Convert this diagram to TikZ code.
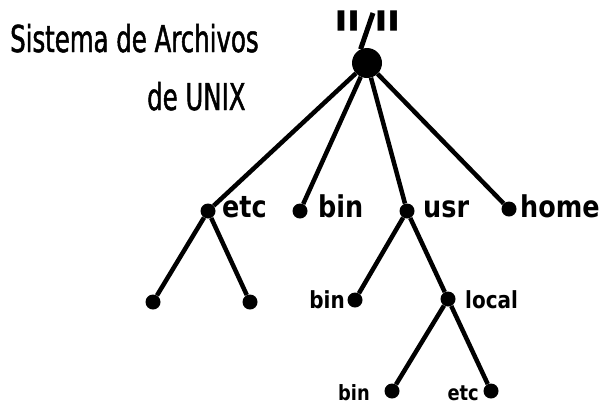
\documentclass[tikz,border=0pt]{standalone}
\usepackage{fontspec}
\newfontfamily\titlefont[FakeStretch=0.66,FakeBold=1.3]{DejaVu Sans}
\newfontfamily\labelfont[FakeStretch=0.85]{DejaVu Sans}
\newfontfamily\quotefont[FakeStretch=0.78]{DejaVu Sans}
\begin{document}
\begin{tikzpicture}[x=1bp,y=-1bp,
  dot/.style={circle,fill=black,inner sep=0pt,minimum size=15bp},
  rootdot/.style={circle,fill=black,inner sep=0pt,minimum size=30bp},
  edge/.style={line width=4.5bp},
  txt/.style={inner sep=0pt,anchor=base west},
  titletext/.style={txt,font=\titlefont\fontsize{37bp}{44bp}\selectfont},
  biglabel/.style={txt,font=\labelfont\bfseries\fontsize{30bp}{36bp}\selectfont},
  midlabel/.style={txt,font=\labelfont\bfseries\fontsize{23.5bp}{28bp}\selectfont},
  smalllabel/.style={txt,font=\labelfont\bfseries\fontsize{21bp}{25bp}\selectfont},
]
\useasboundingbox[fill=white] (0,0) rectangle (604,407);

% title
\node[titletext] (title1) at (10,52) {Sistema de Archivos};
\node[titletext] (title2) at (147,110) {de UNIX};

% root directory and its name
\node[rootdot] (root) at (367,63) {};
\node[txt,font=\quotefont\bfseries\fontsize{75bp}{80bp}\selectfont] (rootname) at (332,65) {"\kern9.5bp"};
\coordinate (slashtop) at (373,13);
\draw[edge,line width=5bp] (slashtop) -- (root.115);

% first level
\node[dot] (etc)  at (208,211) {};
\node[dot] (bin)  at (300,211) {};
\node[dot] (usr)  at (407,211) {};
\node[dot] (home) at (509,209) {};
\node[biglabel] (etcl)  at (222,217) {etc};
\node[biglabel] (binl)  at (318,217) {bin};
\node[biglabel] (usrl)  at (423,217) {usr};
\node[biglabel] (homel) at (520,217) {home};

% second level
\node[dot] (etca)  at (153,302) {};
\node[dot] (etcb)  at (250,302) {};
\node[dot] (ubin)  at (355,300) {};
\node[dot] (local) at (448,299) {};
\node[midlabel,anchor=base east] (ubinl) at (345,308) {bin};
\node[midlabel] (locall) at (465,308) {local};

% third level
\node[dot] (lbin) at (392,391) {};
\node[dot] (letc) at (491,391) {};
\node[smalllabel,anchor=base east] (lbinl) at (370,400) {bin};
\node[smalllabel,anchor=base east] (letcl) at (479,400) {etc};

% connectors
\foreach \c in {etc,bin,usr,home} \draw[edge] (root) -- (\c);
\draw[edge] (etc) -- (etca);
\draw[edge] (etc) -- (etcb);
\draw[edge] (usr) -- (ubin);
\draw[edge] (usr) -- (local);
\draw[edge] (local) -- (lbin);
\draw[edge] (local) -- (letc);
\end{tikzpicture}
\end{document}
